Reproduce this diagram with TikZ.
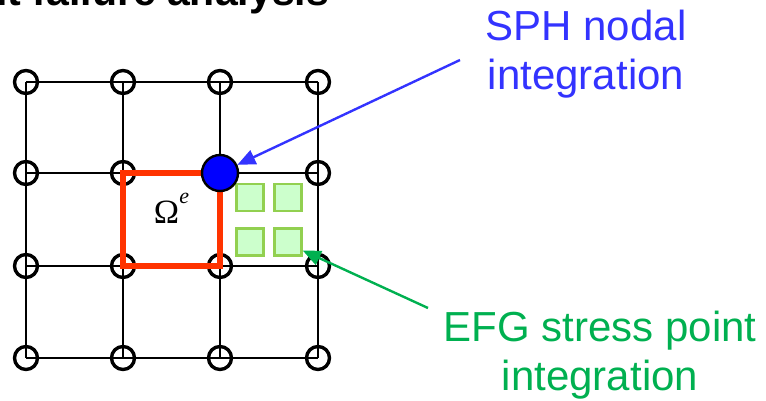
\documentclass[tikz,border=0pt]{standalone}
\usepackage{fontspec}
\setmainfont{Liberation Sans}
\newfontfamily\omegafont{Liberation Serif}
\usetikzlibrary{arrows.meta,calc}
\definecolor{sphblue}{RGB}{51,51,255}
\definecolor{dotblue}{RGB}{0,0,255}
\definecolor{elemred}{RGB}{255,51,0}
\definecolor{efggreen}{RGB}{0,176,80}
\definecolor{ptfill}{RGB}{204,255,204}
\definecolor{ptedge}{RGB}{146,208,80}

\begin{document}
\begin{tikzpicture}[x=1pt, y=-1pt,
  gridpt/.style={circle, draw, line width=3.4pt, minimum size=23pt, inner sep=0pt},
  gridline/.style={line width=2.4pt},
  stresspt/.style={rectangle, draw=ptedge, fill=ptfill, line width=2.4pt, minimum size=27pt, inner sep=0pt},
  bigtext/.style={font=\fontsize{42}{49}\selectfont, align=center, inner sep=0pt, anchor=north},
  pointer/.style={line width=2.4pt, -{Triangle[length=18pt, width=15pt]}}]
\useasboundingbox (0,0) rectangle (766,400);

% title, cut by the top edge
\node[anchor=base west, inner sep=0pt, font=\fontsize{41}{49}\selectfont\bfseries] (title) at (-17.5,5) {nt failure analysis};

% background mesh
\foreach \x [count=\i] in {26,123,220,318}
  \foreach \y [count=\j] in {82,173,266,358}
    \node[gridpt] (n-\i-\j) at (\x,\y) {};
\foreach \i in {1,...,4} {
  \draw[gridline] (n-\i-1.center) -- (n-\i-4.center);
  \draw[gridline] (n-1-\i.center) -- (n-4-\i.center);
}

% element domain
\draw[elemred, line width=5.5pt] (n-2-2.center) rectangle (n-3-3.center);
\node[anchor=base, inner sep=0pt, font=\omegafont\fontsize{34}{34}\selectfont] (omega)
  at ($(n-2-2)!0.5!(n-3-3)+(0,3.5)$) {Ω\raisebox{20pt}{\fontsize{22}{22}\selectfont\itshape e}};

% stress points of the next cell
\node[stresspt] (sq1) at (250,197.5) {};
\node[stresspt] (sq2) at (288,197.5) {};
\node[stresspt] (sq3) at (250,242) {};
\node[stresspt] (sq4) at (288,242) {};

% nodal point
\node[circle, draw, line width=2.4pt, fill=dotblue, minimum size=36pt, inner sep=0pt] (sph) at (n-3-2) {};

% labels
\node[bigtext, sphblue] (sph-label) at (586,10) {SPH nodal\\integration};
\node[bigtext, efggreen] (efg-label) at (600,311) {EFG stress point\\integration};
\coordinate (sph-tail) at (460,60);
\coordinate (efg-tail) at (428,308);
\draw[pointer, sphblue] (sph-tail) -- (sph);
\draw[pointer, efggreen] (efg-tail) -- (sq4.-30);
\end{tikzpicture}
\end{document}
